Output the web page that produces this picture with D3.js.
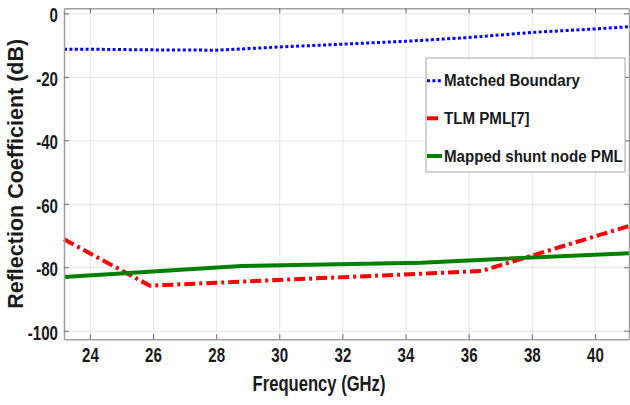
<!DOCTYPE html>
<html>
<meta charset="utf-8">
<script src="https://d3js.org/d3.v7.min.js"></script>

<head>
    <style>
        body {
            margin: 0;
            background-color: white;
            font-family: "Liberation Sans", Arial, Helvetica, sans-serif;
        }

        svg {
            display: block;
        }
    </style>
</head>

<body>
</body>
<script>
    const width = 630,
        height = 405;

    // tick labels
    const freqTicks = [24, 26, 28, 30, 32, 34, 36, 38, 40];
    const dbTicks = [0, -20, -40, -60, -80, -100];

    // series (GHz, dB)
    const matchedFreq = [23.18, 24, 26, 28, 30, 32, 34, 36, 38, 40, 41.08];
    const matchedDb = [-11.3, -11.3, -11.5, -11.6, -10.6, -9.7, -8.8, -7.6, -6.0, -4.9, -4.2];
    const tlmFreq = [23.18, 25.9, 36.4, 41.08];
    const tlmDb = [-71.2, -85.8, -81.2, -67.0];
    const shuntFreq = [23.18, 28.8, 34.5, 36.5, 41.08];
    const shuntDb = [-83.1, -79.6, -78.6, -77.6, -75.6];

    const legendLabels = ["Matched Boundary", "TLM PML[7]", "Mapped shunt node PML"];

    const plot = { left: 64, top: 8.3, right: 629, bottom: 339.3 };

    const svg = d3.select("body").append("svg").attr("width", width).attr("height", height);

    const x = d3.scaleLinear().domain([23.18, 41.08]).range([plot.left, plot.right]);
    const y = d3.scaleLinear().domain([-102.7, 1.6]).range([plot.bottom, plot.top]);

    // grid
    svg.append("g")
        .attr("transform", `translate(0,${plot.bottom})`)
        .call(d3.axisBottom(x).tickValues(freqTicks).tickSize(-(plot.bottom - plot.top)).tickFormat(""))
        .call(g => g.select(".domain").remove())
        .call(g => g.selectAll("line").attr("stroke", "#e6e6e6"));
    svg.append("g")
        .attr("transform", `translate(${plot.left},0)`)
        .call(d3.axisLeft(y).tickValues(dbTicks).tickSize(-(plot.right - plot.left)).tickFormat(""))
        .call(g => g.select(".domain").remove())
        .call(g => g.selectAll("line").attr("stroke", "#e6e6e6"));

    // lines
    const series = [
        { f: matchedFreq, v: matchedDb, color: "#0000ff", w: 3, dash: "3,2.4" },
        { f: tlmFreq, v: tlmDb, color: "#ff0000", w: 4, dash: "11,4,3,4" },
        { f: shuntFreq, v: shuntDb, color: "#008000", w: 4, dash: null }
    ];
    const line = d3.line().x(d => x(d[0])).y(d => y(d[1]));
    series.forEach(s => {
        svg.append("path")
            .datum(s.f.map((f, i) => [f, s.v[i]]))
            .attr("fill", "none")
            .attr("stroke", s.color)
            .attr("stroke-width", s.w)
            .attr("stroke-dasharray", s.dash)
            .attr("d", line);
    });

    // box and inward ticks
    const axisStyle = g => {
        g.select(".domain").attr("stroke", "#a0a0a0").attr("stroke-width", 1.5);
        g.selectAll(".tick line").attr("stroke", "#707070");
    };
    const labelStyle = t => t
        .attr("fill", "#1a1a1a")
        .attr("font-size", 21)
        .attr("font-weight", "bold")
        .attr("font-family", "'Liberation Sans', Arial, sans-serif");

    svg.append("g")
        .attr("transform", `translate(0,${plot.bottom})`)
        .call(d3.axisBottom(x).tickValues(freqTicks).tickSize(-5).tickSizeOuter(0).tickPadding(8)
            .tickFormat(d => String(d)))
        .call(axisStyle)
        .call(g => g.selectAll("text").call(labelStyle)
            .attr("transform", "scale(0.72,1)"));
    svg.append("g")
        .attr("transform", `translate(0,${plot.top})`)
        .call(d3.axisTop(x).tickValues(freqTicks).tickSize(-5).tickSizeOuter(0).tickFormat(""))
        .call(axisStyle);
    svg.append("g")
        .attr("transform", `translate(${plot.left},0)`)
        .call(d3.axisLeft(y).tickValues(dbTicks).tickSize(-5).tickSizeOuter(0)
            .tickFormat(d => String(d)))
        .call(axisStyle)
        .call(g => g.selectAll("text").call(labelStyle)
            .attr("x", -6 / 0.72)
            .attr("dy", "0.4em")
            .attr("transform", "scale(0.72,1)"));
    svg.append("g")
        .attr("transform", `translate(${plot.right},0)`)
        .call(d3.axisRight(y).tickValues(dbTicks).tickSize(-5).tickSizeOuter(0).tickFormat(""))
        .call(axisStyle);

    // axis titles
    svg.append("text")
        .attr("transform", "translate(319,391) scale(0.755,1)")
        .attr("text-anchor", "middle")
        .attr("font-size", 22)
        .attr("font-weight", "bold")
        .attr("fill", "#1a1a1a")
        .text("Frequency (GHz)");
    svg.append("text")
        .attr("transform", `translate(23,${(plot.top + plot.bottom) / 2}) rotate(-90)`)
        .attr("text-anchor", "middle")
        .attr("font-size", 21.5)
        .attr("font-weight", "bold")
        .attr("fill", "#1a1a1a")
        .text("Reflection Coefficient (dB)");

    // legend
    const legend = svg.append("g");
    legend.append("rect")
        .attr("x", 426).attr("y", 58)
        .attr("width", 199).attr("height", 114)
        .attr("fill", "white")
        .attr("stroke", "#a6a6a6");
    const rowY = [80.7, 118.3, 156];
    legendLabels.forEach((label, i) => {
        const s = series[i];
        legend.append("line")
            .attr("x1", 427).attr("x2", 442)
            .attr("y1", rowY[i]).attr("y2", rowY[i])
            .attr("stroke", s.color)
            .attr("stroke-width", s.w)
            .attr("stroke-dasharray", s.dash);
        legend.append("text")
            .attr("transform", `translate(444,${rowY[i]}) scale(0.945,1)`)
            .attr("dy", "0.36em")
            .attr("font-size", 16)
            .attr("font-weight", "bold")
            .attr("fill", "#1a1a1a")
            .text(label);
    });
</script>

</html>
